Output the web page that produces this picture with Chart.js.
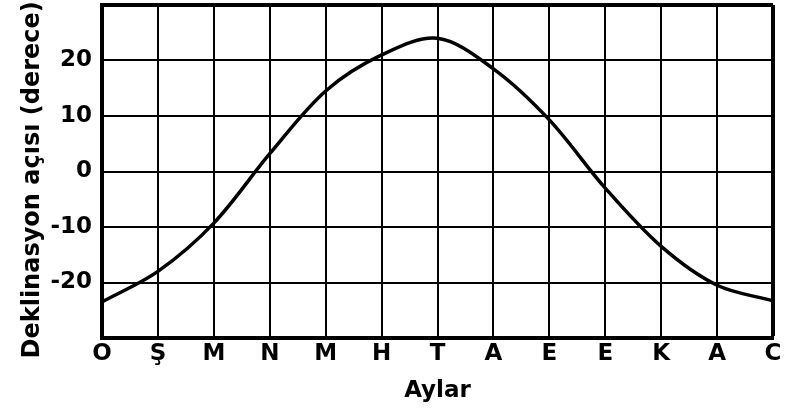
<!DOCTYPE html>
<html>
<head>
<meta charset="utf-8">
<script src="https://cdn.jsdelivr.net/npm/chart.js@4"></script>
<style>
  html, body { margin: 0; padding: 0; background: #fff; }
  #wrap { width: 791px; height: 411px; }
</style>
</head>
<body>
<div id="wrap"><canvas id="declChart" width="791" height="411"></canvas></div>
<script>
// months, Ocak .. Aralık, then back to Ocak at the right edge
const months = ["O", "Ş", "M", "N", "M", "H", "T", "A", "E", "E", "K", "A", "C"];
// declination angle (degrees) read at each month line
const declination = [-23.5, -18, -9.3, 3.2, 14.5, 21, 24, 18.5, 9.3, -3, -13.5, -20.5, -23.3];
const yTicks = [-20, -10, 0, 10, 20];

const ink = "#000";
const tickFont = { family: "DejaVu Sans", size: 23, weight: "bold" };

const ctx = document.getElementById("declChart");

new Chart(ctx, {
  type: "line",
  data: {
    labels: months,
    datasets: [{
      label: "Deklinasyon",
      data: declination,
      borderColor: ink,
      borderWidth: 3.5,
      pointRadius: 0,
      tension: 0.33,
      fill: false
    }]
  },
  options: {
    responsive: false,
    animation: false,
    devicePixelRatio: 1,
    layout: { padding: { top: 5, right: 18, left: 0, bottom: 0 } },
    plugins: { legend: { display: false }, tooltip: { enabled: false } },
    scales: {
      x: {
        offset: false,
        border: { display: true, color: ink, width: 4 },
        grid: {
          color: ink,
          lineWidth: c => (c.index === months.length - 1 ? 4 : 2),
          drawTicks: false
        },
        ticks: { color: ink, font: tickFont, padding: 2, maxRotation: 0, autoSkip: false },
        title: {
          display: true,
          text: "Aylar",
          color: ink,
          font: { family: "DejaVu Sans", size: 23, weight: "bold" },
          padding: { top: 0, bottom: 6 }
        },
        afterFit: s => { s.height = 73; s.paddingLeft = 0; s.paddingRight = 0; }
      },
      y: {
        min: -30,
        max: 30,
        border: { display: true, color: ink, width: 4 },
        grid: {
          color: ink,
          lineWidth: c => (c.tick && c.tick.value === 30 ? 4 : 2),
          drawTicks: false
        },
        ticks: {
          stepSize: 10,
          color: ink,
          font: tickFont,
          padding: 10,
          callback: v => (yTicks.includes(v) ? String(v) : "")
        },
        title: {
          display: true,
          text: "Deklinasyon açısı (derece)\u00a0\u00a0",
          color: ink,
          font: { family: "DejaVu Sans", size: 24, weight: "bold" },
          padding: { top: 18, bottom: 0 }
        },
        afterFit: s => { s.width = 102; s.paddingTop = 0; s.paddingBottom = 0; }
      }
    }
  }
});
</script>
</body>
</html>
